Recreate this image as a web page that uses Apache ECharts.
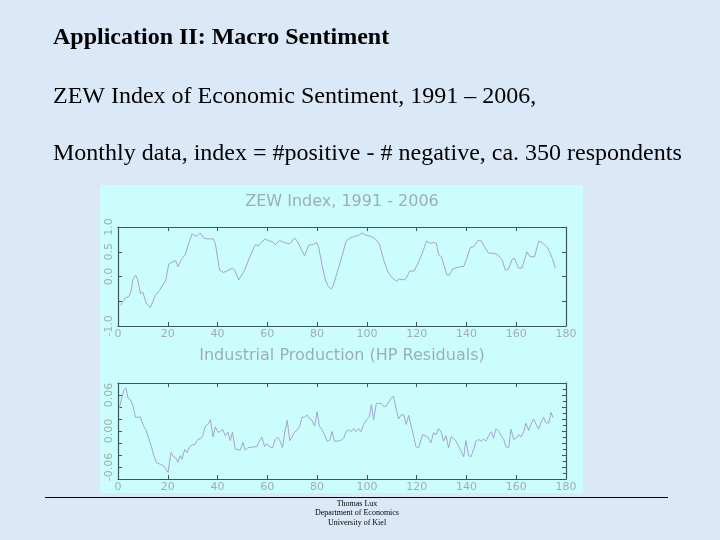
<!DOCTYPE html>
<html>
<head>
<meta charset="utf-8">
<script src="https://cdn.jsdelivr.net/npm/echarts@6/dist/echarts.min.js"></script>
<style>
  html, body { margin: 0; padding: 0; background: #dae7f6; }
  #main { width: 720px; height: 540px; }
</style>
</head>
<body>
<div id="main"></div>
<script>
// ZEW index (top panel), month number and value
var zewMonth = [1, 3, 4.3, 5.2, 6, 7.1, 7.9, 9, 10, 11.4, 13, 15, 16.7, 18, 19.1, 20.4, 21.7, 23.2, 24.1, 25.4,
    27, 28.4, 29.7, 31.7, 33, 34.4, 35.8, 38.2, 39.1, 40.8, 42.4, 44.4, 46, 47.1, 48.5, 49.1, 50.7, 52.5, 54.2, 55.2,
    56.5, 57.2, 59.2, 60.5, 61.9, 63.2, 64.9, 66.5, 69, 71, 72.3, 73.6, 75, 76.6, 78.6, 79.7, 80.6, 82, 83.3, 84.6,
    85.7, 86.6, 88, 89.6, 91.7, 93.3, 95, 96.7, 98, 99.4, 101.6, 103.4, 105.1, 106.7, 108.3, 110, 111.8, 113.1, 114.5, 115.8,
    117.2, 119, 120.8, 122.5, 123.9, 125.5, 126.8, 127.9, 128.8, 129.9, 131.1, 132.2, 133.1, 134.4, 136.2, 137.5, 138.9, 140.2, 141.5, 142.9,
    144.6, 145.9, 147.6, 148.9, 150.9, 152.5, 154.3, 155.6, 156.9, 158.3, 159.3, 160.9, 162.3, 164.3, 165.6, 167.4, 169, 170.3, 172.3, 173.4,
    174.7, 175.7];
var zewValue = [-0.58, -0.43, -0.41, -0.31, -0.06, 0.03, -0.06, -0.34, -0.32, -0.55, -0.63, -0.38, -0.28, -0.17, -0.09, 0.25, 0.29, 0.32, 0.2, 0.34,
    0.44, 0.67, 0.86, 0.81, 0.88, 0.78, 0.76, 0.76, 0.67, 0.13, 0.08, 0.13, 0.17, 0.11, -0.07, -0.07, 0.11, 0.34, 0.54, 0.64,
    0.62, 0.67, 0.76, 0.72, 0.71, 0.64, 0.73, 0.69, 0.66, 0.78, 0.69, 0.55, 0.42, 0.63, 0.65, 0.69, 0.6, 0.23, -0.07, -0.21,
    -0.25, -0.17, 0.08, 0.34, 0.72, 0.78, 0.81, 0.83, 0.88, 0.84, 0.81, 0.76, 0.65, 0.34, 0.11, -0.02, -0.09, -0.05, -0.07, -0.04,
    0.11, 0.11, 0.3, 0.5, 0.71, 0.67, 0.69, 0.67, 0.44, 0.4, 0.21, 0.03, 0.03, 0.15, 0.18, 0.2, 0.2, 0.37, 0.58, 0.6,
    0.73, 0.72, 0.57, 0.47, 0.47, 0.44, 0.34, 0.13, 0.15, 0.34, 0.37, 0.17, 0.17, 0.5, 0.4, 0.4, 0.71, 0.69, 0.6, 0.5,
    0.34, 0.17];

// industrial production HP residuals (bottom panel)
var ipMonth = [0.5, 1.3, 2.3, 3.2, 4, 5, 5.9, 7, 8, 9, 9.6, 10.3, 11.2, 12.3, 13.4, 14.5, 15.5, 16.3, 17.4, 18.3,
    19.3, 20.1, 21.3, 22.4, 23.3, 24.1, 25, 25.7, 26.8, 27.7, 28.6, 29.7, 30.8, 32.1, 33.1, 34, 35.1, 36.1, 37.1, 38.2,
    39.1, 40.2, 41.1, 42, 43.1, 44.2, 45.1, 46, 47.1, 48.2, 49.1, 50.2, 51.1, 52.2, 53.8, 55.8, 56.8, 57.8, 58.9, 59.8,
    60.8, 62.1, 63.2, 64.1, 65.2, 66.1, 67, 68, 69, 69.9, 71, 71.9, 73, 73.9, 75, 75.9, 77, 77.9, 79, 80,
    80.9, 82, 83, 84, 85, 86, 86.9, 88, 89.3, 90.7, 91.6, 92.7, 93.6, 94.7, 95.6, 96.7, 97.6, 98.7, 100, 101,
    101.8, 102.7, 103.8, 104.7, 105.8, 106.7, 107.7, 108.7, 109.8, 110.7, 111.7, 112.7, 113.8, 114.8, 115.8, 116.8, 117.8, 118.8, 119.7, 120.8,
    121.5, 122.4, 123.5, 124.5, 125.7, 126.8, 127.8, 128.8, 129.9, 130.8, 131.8, 132.8, 133.9, 134.8, 135.8, 136.9, 137.9, 138.9, 139.8, 140.9,
    141.8, 142.9, 143.8, 144.9, 145.8, 146.9, 147.8, 148.9, 150, 150.9, 151.9, 153, 154, 155, 155.9, 157, 157.9, 159, 159.9, 161,
    161.9, 163, 163.9, 165, 165.9, 167, 167.9, 169, 169.9, 171, 171.9, 173, 174, 174.8];
var ipValue = [0.038, 0.041, 0.068, 0.072, 0.055, 0.052, 0.044, 0.023, 0.023, 0.023, 0.016, 0.008, 0.002, -0.012, -0.026, -0.042, -0.053, -0.051, -0.056, -0.058,
    -0.064, -0.069, -0.036, -0.043, -0.045, -0.052, -0.041, -0.047, -0.031, -0.036, -0.028, -0.023, -0.023, -0.014, -0.013, -0.008, 0.008, 0.011, 0.019, -0.01,
    0.007, -0.002, -0.001, 0.003, -0.008, -0.002, -0.016, -0.002, -0.03, -0.031, -0.032, -0.019, -0.032, -0.028, -0.027, -0.026, -0.017, -0.01, -0.026, -0.021,
    -0.026, -0.028, -0.014, -0.01, -0.017, -0.028, -0.003, 0.018, -0.016, -0.01, -0.001, 0.001, 0.008, 0.023, 0.023, 0.027, 0.02, 0.018, 0.008, 0.032,
    0.008, 0.002, -0.006, -0.017, -0.016, -0.001, -0.017, -0.017, -0.016, -0.012, -0.001, 0.002, -0.001, 0.004, -0.001, 0.004, -0.001, 0.011, 0.019, 0.024,
    0.044, 0.019, 0.046, 0.046, 0.046, 0.041, 0.041, 0.048, 0.055, 0.058, 0.038, 0.02, 0.027, 0.027, 0.011, 0.026, 0.008, -0.009, -0.026, -0.028,
    -0.028, -0.006, -0.008, -0.01, -0.02, -0.003, -0.006, 0.004, -0.002, -0.017, -0.008, -0.028, -0.009, -0.012, -0.017, -0.026, -0.034, -0.043, -0.016, -0.041,
    -0.043, -0.031, -0.017, -0.014, -0.017, -0.013, -0.017, -0.008, -0.001, -0.012, 0.004, -0.001, -0.008, -0.014, -0.027, -0.027, 0.003, -0.014, -0.012, -0.006,
    -0.01, -0.001, 0.013, 0.001, 0.011, 0.02, 0.012, 0.003, 0.014, 0.023, 0.014, 0.013, 0.031, 0.022];

var xTicks = [0, 20, 40, 60, 80, 100, 120, 140, 160, 180];
var zewLabels = ['-1.0', '', '0.0', '0.5', '1.0'];
var ipLabels = ['-0.06', '0.00', '0.06'];

function pairs(xs, ys) {
    var out = [];
    for (var i = 0; i < xs.length; i++) out.push([xs[i], ys[i]]);
    return out;
}

var boxColor = '#3b5757', labelColor = '#9eaeb0', lineColor = '#a8a2cf';
var axisFont = 'DejaVu Sans';

function xAxisDef(grid, pos) {
    return {
        type: 'value', gridIndex: grid, position: pos,
        min: xTicks[0], max: xTicks[xTicks.length - 1], interval: 20,
        axisLine: { show: true, onZero: false, lineStyle: { color: boxColor, width: 1.2 } },
        axisTick: { show: true, inside: true, length: 4, lineStyle: { color: boxColor } },
        axisLabel: {
            show: pos === 'bottom', color: labelColor, fontSize: 11, fontFamily: axisFont, margin: 3,
            formatter: function (v) { return xTicks.indexOf(v) >= 0 ? String(v) : ''; }
        },
        splitLine: { show: false }
    };
}

function zewYAxis(pos) {
    return {
        type: 'value', gridIndex: 0, position: pos, min: -1, max: 1, interval: 0.5,
        axisLine: { show: true, onZero: false, lineStyle: { color: boxColor, width: 1.2 } },
        axisTick: { show: true, inside: true, length: 4, lineStyle: { color: boxColor } },
        axisLabel: {
            show: pos === 'left', rotate: 90, color: labelColor, fontSize: 11, fontFamily: axisFont, margin: 3,
            formatter: function (v) { return zewLabels[Math.round((v + 1) * 2)] || ''; }
        },
        splitLine: { show: false }
    };
}

function ipYAxis(pos) {
    return {
        type: 'value', gridIndex: 1, position: pos, min: -0.08, max: 0.08, interval: 0.02,
        axisLine: { show: true, onZero: false, lineStyle: { color: boxColor, width: 1.2 } },
        axisTick: { show: true, inside: true, length: 4, lineStyle: { color: boxColor } },
        minorTick: { show: pos === 'right', splitNumber: 2, length: 3, lineStyle: { color: boxColor } },
        axisLabel: {
            show: pos === 'left', rotate: 90, color: labelColor, fontSize: 11, fontFamily: axisFont, margin: 3,
            formatter: function (v) {
                var k = Math.round(v * 100);
                if (k === -6) return ipLabels[0];
                if (k === 0) return ipLabels[1];
                if (k === 6) return ipLabels[2];
                return '';
            }
        },
        splitLine: { show: false }
    };
}

var chart = echarts.init(document.getElementById('main'));

chart.setOption({
    backgroundColor: '#dbe8f7',
    animation: false,
    grid: [
        { left: 118, right: 154, top: 227, height: 99 },
        { left: 118, right: 154, top: 383, height: 96 }
    ],
    xAxis: [xAxisDef(0, 'bottom'), xAxisDef(0, 'top'), xAxisDef(1, 'bottom'), xAxisDef(1, 'top')],
    yAxis: [zewYAxis('left'), zewYAxis('right'), ipYAxis('left'), ipYAxis('right')],
    graphic: [
        { type: 'rect', z: -10, silent: true, shape: { x: 100, y: 185, width: 483, height: 308 }, style: { fill: '#ccfdfd' } },
        { type: 'text', left: 53, top: 26, style: { text: 'Application II: Macro Sentiment', font: 'bold 24px "Liberation Serif"', fill: '#000' } },
        { type: 'text', left: 53, top: 85, style: { text: 'ZEW Index of Economic Sentiment, 1991 \u2013 2006,', font: '24px "Liberation Serif"', fill: '#000' } },
        { type: 'text', left: 53, top: 142, style: { text: 'Monthly data, index = #positive - # negative, ca. 350 respondents', font: '24px "Liberation Serif"', fill: '#000' } },
        { type: 'text', x: 342, y: 202, style: { text: 'ZEW Index, 1991 - 2006', font: '16px "DejaVu Sans"', fill: labelColor, align: 'center', verticalAlign: 'middle' } },
        { type: 'text', x: 342, y: 356, style: { text: 'Industrial Production (HP Residuals)', font: '16px "DejaVu Sans"', fill: labelColor, align: 'center', verticalAlign: 'middle' } },
        { type: 'line', shape: { x1: 45, y1: 497.5, x2: 668, y2: 497.5 }, style: { stroke: '#000', lineWidth: 1 } },
        { type: 'text', x: 357, y: 499, style: { text: 'Thomas Lux\nDepartment of Economics\nUniversity of Kiel', font: '8px "Liberation Serif"', fill: '#000', align: 'center', lineHeight: 9.5 } }
    ],
    series: [
        {
            type: 'line', xAxisIndex: 0, yAxisIndex: 0, data: pairs(zewMonth, zewValue),
            showSymbol: false, lineStyle: { color: lineColor, width: 1 }
        },
        {
            type: 'line', xAxisIndex: 2, yAxisIndex: 2, data: pairs(ipMonth, ipValue),
            showSymbol: false, lineStyle: { color: lineColor, width: 1 }
        }
    ]
});
</script>
</body>
</html>
